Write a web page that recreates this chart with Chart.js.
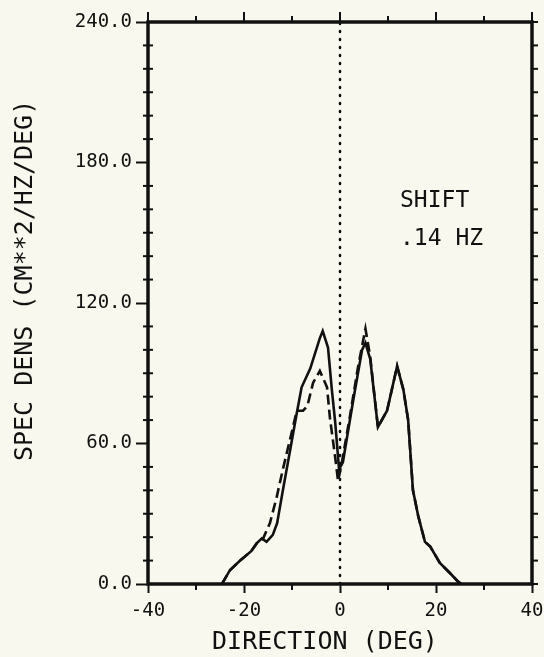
<!DOCTYPE html>
<html lang="en">
<head>
    <meta charset="UTF-8">
    <title>Spec Dens vs Direction</title>
    <script src="https://cdn.jsdelivr.net/npm/chart.js"></script>
    <style>
        html, body { margin: 0; padding: 0; background: #f8f8ee; }
        #wrap { width: 544px; height: 657px; }
    </style>
</head>
<body>
<div id="wrap"><canvas id="myChart" width="544" height="657"></canvas></div>
<script>
    // values
    const solidX = [-24.6, -22.9, -20.8, -18.5, -17.3, -16.3, -15.3, -14.0, -13.1, -11.9, -10.4, -9.0, -8.0, -6.2, -4.2, -3.6, -2.5, -1.7, -1.0, -0.2, 0.6, 2.8, 4.6, 5.3, 6.3, 7.9, 9.8, 11.9, 13.2, 14.2, 15.2, 16.3, 17.7, 18.8, 20.8, 22.9, 24.6, 25.3];
    const solidY = [0, 6, 10, 14, 17.5, 19.5, 18, 21, 26, 40, 57, 73, 84, 92, 105, 108, 101, 83, 69, 49, 52, 79, 100, 103, 96, 67, 74, 93, 83, 70, 40, 29, 18, 16, 9, 4.7, 1, 0];

    const dashX = [-24.6, -22.9, -20.8, -18.5, -17.3, -16.0, -14.6, -13.2, -11.9, -9.8, -9.0, -7.7, -6.8, -5.6, -4.2, -2.7, -2.1, -1.0, -0.4, 0.4, 2.1, 3.7, 5.3, 6.3, 7.9, 9.8, 11.9, 13.2, 14.2, 15.2, 16.3, 17.7, 18.8, 20.8, 22.9, 24.6, 25.3];
    const dashY = [0, 6, 10, 14, 17.5, 19.5, 26, 37, 49, 67, 74, 74, 76, 86, 91, 84, 71, 54, 44, 52, 72, 92, 109, 97, 67, 74, 93, 83, 70, 40, 29, 18, 16, 9, 4.7, 1, 0];

    const xTicks = [-40, -20, 0, 20, 40];
    const yTicks = [0, 60, 120, 180, 240];
    const noteLines = ["SHIFT", ".14 HZ"];

    const ink = '#111';
    const mono = "'DejaVu Sans Mono', 'Liberation Mono', monospace";

    function pts(xs, ys) {
        return xs.map((x, i) => ({ x: x, y: ys[i] }));
    }

    // frame, minor ticks, top/right ticks and the text note
    const framePlugin = {
        id: 'frame',
        afterDatasetsDraw(chart) {
            const ctx = chart.ctx;
            const a = chart.chartArea;
            const xs = chart.scales.x, ys = chart.scales.y;
            ctx.save();
            ctx.strokeStyle = ink;
            ctx.lineCap = 'square';

            ctx.lineWidth = 2;
            for (let v = -40; v <= 40; v += 10) {
                const px = xs.getPixelForValue(v);
                const big = v % 20 === 0;
                ctx.beginPath();
                ctx.moveTo(px, a.top);
                ctx.lineTo(px, a.top - (big ? 9 : 5));
                ctx.stroke();
                if (!big) {
                    ctx.beginPath();
                    ctx.moveTo(px, a.bottom);
                    ctx.lineTo(px, a.bottom + 5);
                    ctx.stroke();
                }
            }
            for (let v = 0; v <= 240; v += 10) {
                const py = ys.getPixelForValue(v);
                ctx.beginPath();
                ctx.moveTo(a.right, py);
                ctx.lineTo(a.right + 5, py);
                ctx.stroke();
                if (v % 60 !== 0) {
                    ctx.beginPath();
                    ctx.moveTo(a.left - 4, py);
                    ctx.lineTo(a.left + 4, py);
                    ctx.stroke();
                }
            }

            ctx.lineWidth = 3.5;
            ctx.strokeRect(a.left, a.top, a.right - a.left, a.bottom - a.top);

            ctx.fillStyle = ink;
            ctx.font = "23px " + mono;
            ctx.textBaseline = 'middle';
            ctx.textAlign = 'left';
            ctx.fillText(noteLines[0], xs.getPixelForValue(12.5), ys.getPixelForValue(163.5));
            ctx.fillText(noteLines[1], xs.getPixelForValue(12.5), ys.getPixelForValue(147.3));
            ctx.restore();
        }
    };

    const data = {
        datasets: [
            {
                label: "zero",
                data: [{ x: 0, y: 0 }, { x: 0, y: 240 }],
                borderColor: ink,
                borderWidth: 2.6,
                borderDash: [1, 7],
                borderCapStyle: 'round',
                pointRadius: 0
            },
            {
                label: "dashed",
                data: pts(dashX, dashY),
                borderColor: ink,
                borderWidth: 2.6,
                borderDash: [10, 5],
                pointRadius: 0
            },
            {
                label: "solid",
                data: pts(solidX, solidY),
                borderColor: ink,
                borderWidth: 2.6,
                pointRadius: 0
            }
        ]
    };

    const configs = {
        type: 'scatter',
        data: data,
        plugins: [framePlugin],
        options: {
            responsive: false,
            animation: false,
            showLine: true,
            layout: { padding: { top: 22, right: 12, left: 0, bottom: 0 } },
            plugins: { legend: { display: false }, tooltip: { enabled: false } },
            scales: {
                x: {
                    type: 'linear',
                    min: -40, max: 40,
                    afterFit: s => { s.height = 73; s.paddingLeft = 0; s.paddingRight = 0; },
                    afterBuildTicks: s => { s.ticks = xTicks.map(v => ({ value: v })); },
                    grid: { drawOnChartArea: false, drawTicks: true, tickLength: 9, tickWidth: 2, color: ink },
                    border: { display: false },
                    ticks: { color: ink, font: { family: mono, size: 19 }, padding: 7, maxRotation: 0 },
                    // the original title sits a little left of the plot centre
                    title: { display: true, text: "DIRECTION (DEG)  ", color: ink, font: { family: mono, size: 25 }, padding: { top: 0, bottom: 0 } }
                },
                y: {
                    type: 'linear',
                    min: 0, max: 240,
                    afterFit: s => { s.width = 148; s.paddingTop = 0; s.paddingBottom = 0; },
                    afterBuildTicks: s => { s.ticks = yTicks.map(v => ({ value: v })); },
                    grid: { drawOnChartArea: false, drawTicks: true, tickLength: 12, tickWidth: 2, color: ink },
                    border: { display: false },
                    ticks: { color: ink, font: { family: mono, size: 19 }, padding: 4, callback: v => v.toFixed(1) },
                    title: { display: true, text: "   SPEC DENS (CM**2/HZ/DEG)", color: ink, font: { family: mono, size: 25 }, padding: { top: 10, bottom: 0 } }
                }
            }
        }
    };

    new Chart(document.getElementById("myChart"), configs);
</script>
</body>
</html>
